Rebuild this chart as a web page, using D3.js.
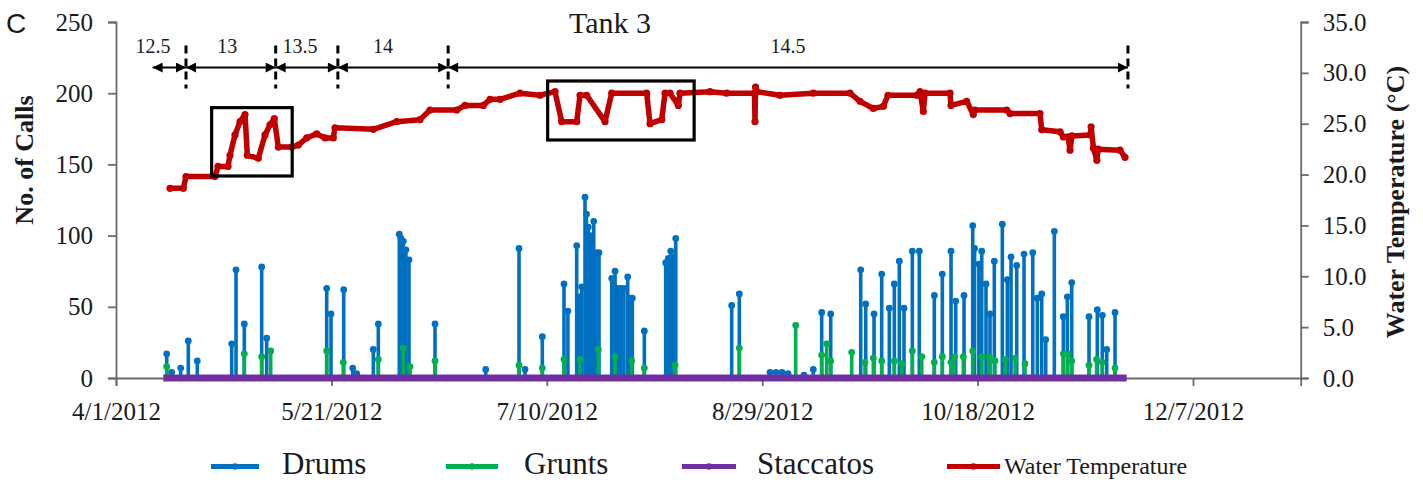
<!DOCTYPE html>
<html>
<head>
<meta charset="utf-8">
<script src="https://cdn.jsdelivr.net/npm/d3@7"></script>
<style>
  html, body { margin: 0; padding: 0; background: #fff; }
  svg { display: block; }
  text { font-family: "Liberation Serif", "Times New Roman", serif; fill: #1a1a1a; }
</style>
</head>
<body>
<svg id="chart" width="1423" height="483"></svg>
<script>
// ---- Data (days counted from 4/1/2012) ----
const xTickLabels = ["4/1/2012", "5/21/2012", "7/10/2012", "8/29/2012", "10/18/2012", "12/7/2012"];
const leftTicks = [0, 50, 100, 150, 200, 250];
const rightTicks = [0, 5, 10, 15, 20, 25, 30, 35];

// Drum calls: day of event and number of calls
const drumDays = [11.77, 12.93, 15.02, 16.78, 18.87, 26.86, 27.86, 29.78, 33.82, 34.98,
  48.91, 49.91, 52.86, 54.95, 55.87, 59.73, 60.89, 65.76, 66.15, 66.69, 67.3, 68.01, 74.05, 85.82,
  93.55, 94.94, 98.96, 103.99, 104.9, 106.94, 107.5, 108.1, 108.87, 109.2, 109.64, 110.15,
  110.89, 111.4, 112.12, 115.07, 115.5, 115.84, 116.4, 117.16, 117.9, 118.78, 119.3, 119.85,
  122.64, 127.6, 128.2, 128.77, 129.35, 129.93, 142.92, 144.69,
  151.82, 153.2, 154.6, 156.0, 159.7, 161.86, 163.81, 165.9, 172.87, 174.03, 175.96,
  177.74, 179.51, 180.67, 181.83, 182.92, 184.85, 186.47, 189.95, 191.81, 193.83,
  194.92, 196.85, 198.87, 199.3, 200.3, 200.96, 201.95, 202.88, 203.88, 205.74, 206.9, 207.76,
  209.08, 210.78, 212.8, 213.86, 214.88, 215.81, 217.81, 219.9, 220.83, 221.85,
  225.86, 227.79, 228.95, 229.97, 231.9];
const drumCalls = [17, 4, 7, 26, 12, 24, 76, 38, 78, 28,
  63, 45, 62, 7, 3, 20, 38, 101, 98, 96, 90, 83, 38, 6,
  91, 6, 29, 66, 47, 93, 57, 64, 127, 115, 106, 100,
  110, 88, 88, 70, 65, 75, 63, 63, 63, 71, 56, 56,
  33, 81, 84, 89, 85, 98, 51, 59,
  4, 4, 4, 3, 2, 6, 46, 45, 76, 52, 45,
  73, 49, 66, 82, 49, 89, 89, 58, 73, 89,
  54, 58, 107, 91, 80, 89, 66, 45, 82, 108, 69, 85,
  79, 87, 88, 56, 59, 27, 103, 43, 57, 67,
  43, 48, 44, 20, 46];

// Grunt calls
const gruntDays = [11.77, 29.78, 33.82, 35.91, 48.91, 52.76, 60.89, 66.69, 68.25, 74.05,
  93.55, 98.96, 103.99, 107.71, 111.96, 115.84, 119.71, 122.64, 129.77, 144.69,
  157.78, 163.81, 164.97, 165.9, 170.78, 173.86, 175.79, 177.74, 180.67, 182.39,
  184.85, 187.03, 189.95, 191.81, 193.83, 194.6, 196.69, 198.87, 200.96, 202.72,
  204.04, 206.4, 208.7, 211.0, 219.9, 220.93, 221.85, 225.86, 227.62, 228.95, 231.9];
const gruntCalls = [8, 17, 15, 19, 19, 11, 13, 21, 8, 12,
  9, 7, 13, 13, 20, 15, 12, 7, 9, 21,
  37, 16, 24, 12, 18, 11, 14, 12, 12, 10,
  19, 15, 11, 15, 11, 15, 15, 19, 15, 15,
  12, 13, 14, 10, 17, 17, 12, 9, 13, 11, 7];

// Staccato calls (none recorded over the deployment)
const staccatoDays = [10.98, 234.6];
const staccatoCalls = [0, 0];

// Water temperature (°C)
const tempDays = [12.54, 15.62, 16.25, 22.98, 23.68, 26.0, 26.46, 27.62, 28.78, 29.95,
  30.48, 33.03, 34.59, 35.75, 36.75, 37.68, 40.79, 42.32, 44.27, 46.59, 48.52, 50.44,
  50.84, 59.73, 65.16, 70.57, 72.89, 79.09, 81.01, 85.26, 86.82, 89.14, 93.78, 98.43,
  101.9, 103.46, 106.94, 107.71, 109.26, 113.51, 115.07, 123.19, 123.96, 126.68,
  127.44, 128.6, 130.53, 130.92, 137.89, 141.76, 148.2, 148.33, 148.45, 148.8,
  154.13, 161.86, 170.38, 172.7, 175.79, 178.11, 179.2, 185.87, 186.63, 187.4,
  187.8, 193.6, 193.83, 197.47, 199.0, 199.4, 206.76, 207.53, 214.49, 214.89,
  219.14, 219.9, 221.0, 221.45, 221.9, 226.12, 226.35, 226.89, 227.68, 227.98,
  233.05, 234.22];
const tempValues = [18.65, 18.65, 19.8, 19.8, 20.8, 20.8, 21.9, 23.9, 25.2, 25.9,
  21.9, 21.6, 23.9, 24.9, 25.5, 22.7, 22.7, 22.9, 23.6, 24.0, 23.6, 23.6,
  24.6, 24.45, 25.2, 25.4, 26.35, 26.35, 26.8, 26.8, 27.4, 27.4, 28.0, 27.8,
  28.15, 25.2, 25.2, 27.8, 27.8, 25.2, 28.0, 28.0, 25.0, 25.4,
  28.0, 28.0, 26.8, 28.0, 28.15, 28.0, 28.0, 25.2, 28.6, 28.15,
  27.8, 28.0, 28.0, 27.2, 26.5, 26.7, 27.8, 27.8, 28.15, 26.2,
  28.0, 28.0, 26.8, 27.2, 25.9, 26.35, 26.35, 26.0, 26.0, 24.4,
  24.2, 23.7, 23.7, 22.4, 23.8, 23.9, 24.7, 22.6, 21.4, 22.5,
  22.4, 21.7];

// Treatment periods marked above the plot
const periodBounds = [8.5, 16.25, 37.07, 51.5, 77.1, 234.9];
const periodLabels = ["12.5", "13", "13.5", "14", "14.5"];
const periodLabelDays = [8.6, 25.8, 42.7, 62.0, 156.0];

// Highlighted temperature excursions: [startDay, endDay, lowTemp, highTemp]
const highlightBoxes = [[22.2, 40.9, 19.86, 26.58], [100.2, 134.2, 23.4, 29.2]];

// ---- Layout ----
const C = { drums: "#0070C0", grunts: "#00B050", stacc: "#7030A0", temp: "#C00000", axis: "#6b6b6b" };
const plot = { left: 116, right: 1300.7, top: 22, bottom: 378 };

const svg = d3.select("#chart");
const t0 = Date.UTC(2012, 3, 1);
const toDate = d => new Date(t0 + d * 864e5);
const parseTick = d3.utcParse("%m/%d/%Y");

const x = d3.scaleUtc()
  .domain([new Date(Date.UTC(2012, 3, 1)), new Date(Date.UTC(2013, 0, 1))])
  .range([plot.left, plot.right]);
const yL = d3.scaleLinear().domain([0, 250]).range([plot.bottom, plot.top]);
const yR = d3.scaleLinear().domain([0, 35]).range([plot.bottom, plot.top]);

// ---- Axes ----
const styleAxis = g => {
  g.select(".domain").attr("stroke", C.axis).attr("stroke-width", 1.8);
  g.selectAll(".tick line").attr("stroke", C.axis).attr("stroke-width", 1.8);
  g.selectAll(".tick text").style("font-family", "'Liberation Serif', serif")
    .style("font-size", "25px").attr("fill", "#1a1a1a");
};

svg.append("g")
  .attr("transform", `translate(0,${plot.bottom})`)
  .call(d3.axisBottom(x).tickValues(xTickLabels.map(parseTick))
    .tickFormat(d3.utcFormat("%-m/%-d/%Y")).tickSizeOuter(0).tickSize(8).tickPadding(16))
  .call(styleAxis);

svg.append("g")
  .attr("transform", `translate(${plot.left},0)`)
  .call(d3.axisLeft(yL).tickValues(leftTicks).tickSizeOuter(0).tickSize(8).tickPadding(15))
  .call(styleAxis);

svg.append("g")
  .attr("transform", `translate(${plot.right},0)`)
  .call(d3.axisRight(yR).tickValues(rightTicks).tickFormat(d3.format(".1f"))
    .tickSizeOuter(0).tickSize(8).tickPadding(14))
  .call(styleAxis);

svg.append("text")
  .attr("transform", `translate(33,160) rotate(-90)`)
  .attr("text-anchor", "middle")
  .style("font-size", "26px").style("font-weight", "bold")
  .text("No. of Calls");

svg.append("text")
  .attr("transform", `translate(1404,202) rotate(-90)`)
  .attr("text-anchor", "middle")
  .style("font-size", "26px").style("font-weight", "bold")
  .text("Water Temperature (°C)");

svg.append("text")
  .attr("x", 610).attr("y", 33)
  .attr("text-anchor", "middle")
  .style("font-size", "30px")
  .text("Tank 3");

svg.append("text")
  .attr("x", 6).attr("y", 33)
  .style("font-family", "'Liberation Sans', Arial, sans-serif")
  .style("font-size", "28px")
  .text("C");

// ---- Call series ----
const drums = drumDays.map((d, i) => ({ d, v: drumCalls[i] }));
const grunts = gruntDays.map((d, i) => ({ d, v: gruntCalls[i] }));

function drawStems(data, color) {
  const g = svg.append("g");
  g.selectAll("line").data(data).join("line")
    .attr("x1", p => x(toDate(p.d))).attr("x2", p => x(toDate(p.d)))
    .attr("y1", yL(0)).attr("y2", p => yL(p.v))
    .attr("stroke", color).attr("stroke-width", 3.6);
  g.selectAll("circle").data(data).join("circle")
    .attr("cx", p => x(toDate(p.d))).attr("cy", p => yL(p.v))
    .attr("r", 3.4).attr("fill", color);
}
drawStems(drums, C.drums);
drawStems(grunts, C.grunts);

const stacc = staccatoDays.map((d, i) => ({ d, v: staccatoCalls[i] }));
svg.append("path")
  .datum(stacc)
  .attr("fill", "none").attr("stroke", C.stacc).attr("stroke-width", 7)
  .attr("d", d3.line().x(p => x(toDate(p.d))).y(p => yL(p.v)));

// ---- Water temperature ----
const temps = tempDays.map((d, i) => ({ d, v: tempValues[i] }));
svg.append("path")
  .datum(temps)
  .attr("fill", "none").attr("stroke", C.temp).attr("stroke-width", 5.5)
  .attr("stroke-linejoin", "round")
  .attr("d", d3.line().x(p => x(toDate(p.d))).y(p => yR(p.v)));
svg.append("g").selectAll("circle").data(temps).join("circle")
  .attr("cx", p => x(toDate(p.d))).attr("cy", p => yR(p.v))
  .attr("r", 3.6).attr("fill", C.temp);

// ---- Highlight boxes ----
svg.append("g").selectAll("rect").data(highlightBoxes).join("rect")
  .attr("x", b => x(toDate(b[0]))).attr("y", b => yR(b[3]))
  .attr("width", b => x(toDate(b[1])) - x(toDate(b[0])))
  .attr("height", b => yR(b[2]) - yR(b[3]))
  .attr("fill", "none").attr("stroke", "#000").attr("stroke-width", 3.2);

// ---- Period markers ----
const arrowY = yL(218);
const ann = svg.append("g");
const marker = ann.append("defs");
marker.append("marker").attr("id", "ahead")
  .attr("viewBox", "0 0 10 10").attr("refX", 10).attr("refY", 5)
  .attr("markerWidth", 12).attr("markerHeight", 10)
  .attr("markerUnits", "userSpaceOnUse").attr("orient", "auto-start-reverse")
  .append("path").attr("d", "M0,0 L10,5 L0,10 Z").attr("fill", "#000");

periodLabels.forEach((lab, i) => {
  const xa = x(toDate(periodBounds[i])), xb = x(toDate(periodBounds[i + 1]));
  ann.append("line")
    .attr("x1", xa).attr("x2", xb).attr("y1", arrowY).attr("y2", arrowY)
    .attr("stroke", "#000").attr("stroke-width", 2)
    .attr("marker-start", "url(#ahead)").attr("marker-end", "url(#ahead)");
  ann.append("text")
    .attr("x", x(toDate(periodLabelDays[i]))).attr("y", arrowY - 15)
    .attr("text-anchor", "middle").style("font-size", "20px")
    .text(lab);
});
periodBounds.slice(1).forEach(b => {
  ann.append("line")
    .attr("x1", x(toDate(b))).attr("x2", x(toDate(b)))
    .attr("y1", arrowY - 22).attr("y2", arrowY + 21)
    .attr("stroke", "#000").attr("stroke-width", 3)
    .attr("stroke-dasharray", "8,5");
});

// ---- Legend ----
const legendItems = [
  { name: "Drums", color: C.drums, x0: 211, x1: 259, tx: 282, size: 31 },
  { name: "Grunts", color: C.grunts, x0: 446, x1: 498, tx: 524, size: 31 },
  { name: "Staccatos", color: C.stacc, x0: 682, x1: 736, tx: 757, size: 31 },
  { name: "Water Temperature", color: C.temp, x0: 947, x1: 1000, tx: 1004, size: 24 }
];
const lg = svg.append("g");
legendItems.forEach(it => {
  lg.append("line").attr("x1", it.x0).attr("x2", it.x1).attr("y1", 466.5).attr("y2", 466.5)
    .attr("stroke", it.color).attr("stroke-width", 5);
  lg.append("circle").attr("cx", (it.x0 + it.x1) / 2).attr("cy", 466.5).attr("r", 3.2)
    .attr("fill", it.color);
  lg.append("text").attr("x", it.tx).attr("y", 474)
    .style("font-size", it.size + "px").text(it.name);
});
</script>
</body>
</html>
